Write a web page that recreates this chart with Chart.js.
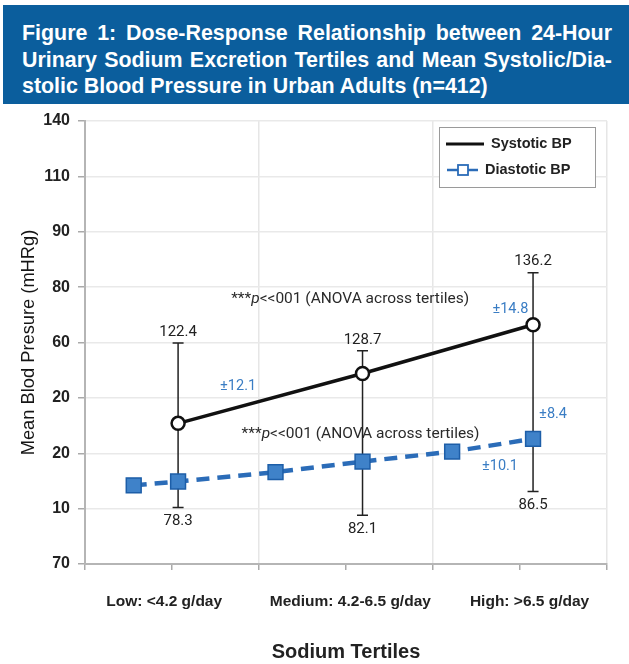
<!DOCTYPE html>
<html><head><meta charset="utf-8">
<script src="https://cdn.jsdelivr.net/npm/chart.js@4.4.0/dist/chart.umd.min.js"></script>
<style>
html,body{margin:0;padding:0;background:#fff;width:629px;height:664px;overflow:hidden;}
#wrap{position:relative;width:629px;height:664px;}
#hdr{position:absolute;left:3px;top:5px;width:626px;height:99px;background:#0b5e9d;box-sizing:border-box;padding:15px 17px 0 19px;color:#fff;font-family:"Liberation Sans",Arial,sans-serif;font-weight:bold;font-size:21.4px;line-height:26.5px;z-index:2;}
.j{text-align:justify;text-align-last:justify;white-space:nowrap;}
.l{white-space:nowrap;}
canvas{position:absolute;left:0;top:0;}
</style></head>
<body><div id="wrap">
<div id="hdr"><div class="j">Figure 1: Dose-Response Relationship between 24-Hour</div><div class="j">Urinary Sodium Excretion Tertiles and Mean Systolic/Dia-</div><div class="l">stolic Blood Pressure in Urban Adults (n=412)</div></div>
<canvas id="c" width="629" height="664"></canvas>
</div>
<script>
const yTickLabels = ['70','10','20','20','60','80','90','110','140'];
const categories = ['Low: <4.2 g/day','Medium: 4.2-6.5 g/day','High: >6.5 g/day'];
const categoryTickX = [0.91, 3.05, 5.11];
const systolicX = [1.07, 3.19, 5.15];
const systolicY = [2.54, 3.44, 4.32];
const errorTop = [3.99, 3.85, 5.26];
const errorBottom = [1.02, 0.88, 1.31];
const systolicMeans = ['122.4','128.7','136.2'];
const diastolicMeans = ['78.3','82.1','86.5'];
const diastolicX = [0.56, 1.07, 2.19, 3.19, 4.22, 5.15];
const diastolicY = [1.42, 1.49, 1.66, 1.85, 2.03, 2.26];
const sdLabels = ['±12.1','±14.8','±8.4','±10.1'];
const sdX = [1.76, 4.89, 5.38, 4.77];
const sdY = [3.21, 4.60, 2.71, 1.77];
const anovaX = [1.68, 1.80];
const anovaY = [4.79, 2.35];
const seriesNames = ['Systotic BP','Diastotic BP'];

const SYS_COLOR = '#111111';
const DIA_LINE = '#2b6cb8';
const DIA_FILL = '#3f82c9';
const DIA_BORDER = '#1d5ea8';
const SD_COLOR = '#3a7dc4';

const overlay = {
  id: 'overlay',
  beforeDatasetsDraw(chart) {
    const ctx = chart.ctx, xs = chart.scales.x, ys = chart.scales.y;
    ctx.save();
    ctx.strokeStyle = '#222';
    ctx.lineWidth = 1.5;
    for (let i = 0; i < systolicX.length; i++) {
      const x = xs.getPixelForValue(systolicX[i]);
      const yT = ys.getPixelForValue(errorTop[i]);
      const yB = ys.getPixelForValue(errorBottom[i]);
      ctx.beginPath();
      ctx.moveTo(x, yT); ctx.lineTo(x, yB);
      ctx.moveTo(x - 5.5, yT); ctx.lineTo(x + 5.5, yT);
      ctx.moveTo(x - 5.5, yB); ctx.lineTo(x + 5.5, yB);
      ctx.stroke();
    }
    ctx.restore();
  },
  afterDatasetsDraw(chart) {
    const ctx = chart.ctx, xs = chart.scales.x, ys = chart.scales.y, ca = chart.chartArea;
    ctx.save();
    ctx.font = '15px Roboto';
    ctx.fillStyle = '#222';
    ctx.textAlign = 'center';
    ctx.textBaseline = 'middle';
    for (let i = 0; i < systolicX.length; i++) {
      const x = xs.getPixelForValue(systolicX[i]);
      ctx.fillText(systolicMeans[i], x, ys.getPixelForValue(errorTop[i]) - 11);
      ctx.fillText(diastolicMeans[i], x, ys.getPixelForValue(errorBottom[i]) + 14);
    }
    ctx.font = '14.5px Roboto';
    ctx.fillStyle = SD_COLOR;
    for (let i = 0; i < sdLabels.length; i++) {
      ctx.fillText(sdLabels[i], xs.getPixelForValue(sdX[i]), ys.getPixelForValue(sdY[i]));
    }
    ctx.textAlign = 'left';
    ctx.fillStyle = '#2a2a2a';
    for (let i = 0; i < anovaX.length; i++) {
      let x = xs.getPixelForValue(anovaX[i]);
      const y = ys.getPixelForValue(anovaY[i]);
      const parts = [['***','15.5px Roboto'],['p','italic 15.5px Roboto'],['<<001 (ANOVA across tertiles)','15.5px Roboto']];
      for (const [t, f] of parts) {
        ctx.font = f;
        ctx.fillText(t, x, y);
        x += ctx.measureText(t).width;
      }
    }
    // legend
    const bx = ca.right - 168, by = ca.top + 6, bw = 156, bh = 60;
    ctx.fillStyle = '#fff';
    ctx.fillRect(bx, by, bw, bh);
    ctx.strokeStyle = '#9a9a9a';
    ctx.lineWidth = 1;
    ctx.strokeRect(bx + 0.5, by + 0.5, bw, bh);
    ctx.font = 'bold 14.5px "Liberation Sans", Arial, sans-serif';
    ctx.fillStyle = '#222';
    ctx.textBaseline = 'middle';
    ctx.strokeStyle = SYS_COLOR; ctx.lineWidth = 3;
    ctx.beginPath(); ctx.moveTo(bx + 7, by + 17); ctx.lineTo(bx + 45, by + 17); ctx.stroke();
    ctx.fillText(seriesNames[0], bx + 52, by + 17);
    ctx.strokeStyle = DIA_LINE; ctx.lineWidth = 2.5;
    ctx.beginPath(); ctx.moveTo(bx + 8, by + 43); ctx.lineTo(bx + 39, by + 43); ctx.stroke();
    ctx.fillStyle = '#fff'; ctx.lineWidth = 1.8;
    ctx.fillRect(bx + 19, by + 38, 10, 10);
    ctx.strokeRect(bx + 19, by + 38, 10, 10);
    ctx.fillStyle = '#222';
    ctx.fillText(seriesNames[1], bx + 46, by + 43);
    ctx.restore();
  }
};

new Chart(document.getElementById('c'), {
  type: 'line',
  data: {
    datasets: [
      {
        label: seriesNames[0],
        data: systolicX.map((x, i) => ({x, y: systolicY[i]})),
        borderColor: SYS_COLOR, borderWidth: 3.5,
        pointRadius: 6.5, pointBackgroundColor: '#fff', pointBorderColor: SYS_COLOR, pointBorderWidth: 2.5,
        tension: 0
      },
      {
        label: seriesNames[1],
        data: diastolicX.map((x, i) => ({x, y: diastolicY[i]})),
        borderColor: DIA_LINE, borderWidth: 4.5, borderDash: [13, 8],
        pointStyle: 'rect', pointRadius: 10.5, pointBackgroundColor: DIA_FILL, pointBorderColor: DIA_BORDER, pointBorderWidth: 1.5,
        tension: 0
      }
    ]
  },
  options: {
    responsive: false,
    animation: false,
    layout: { padding: { top: 121, right: 16, left: 0, bottom: 0 } },
    plugins: { legend: { display: false }, tooltip: { enabled: false } },
    scales: {
      x: {
        type: 'linear', min: 0, max: 6,
        afterBuildTicks(s) {
          const vals = [0,1,2,3,4,5,6].concat(categoryTickX).sort((a, b) => a - b);
          s.ticks = vals.map(v => ({value: v}));
        },
        afterFit(s) { s.height = 100; },
        ticks: {
          autoSkip: false, maxRotation: 0, padding: 22,
          font: { family: '"Liberation Sans", Arial, sans-serif', size: 15.5, weight: 'bold' },
          color: '#222',
          callback(v) { const i = categoryTickX.indexOf(v); return i >= 0 ? categories[i] : ''; }
        },
        grid: {
          color: c => ([2,4,6].includes(c.tick && c.tick.value) ? '#e6e6e6' : 'rgba(0,0,0,0)'),
          tickColor: c => (Number.isInteger(c.tick && c.tick.value) ? '#aaaaaa' : 'rgba(0,0,0,0)'),
          tickLength: 6, lineWidth: 1.5
        },
        border: { color: '#b5b5b5', width: 2 },
        title: {
          display: true, text: 'Sodium Tertiles', color: '#222',
          font: { family: '"Liberation Sans", Arial, sans-serif', size: 20, weight: 'bold' },
          padding: { top: 0, bottom: 0 }
        }
      },
      y: {
        min: 0, max: 8,
        afterFit(s) { s.width = 85; },
        ticks: {
          stepSize: 1, padding: 8, color: '#222',
          font: { family: '"Liberation Sans", Arial, sans-serif', size: 16, weight: 'bold' },
          callback(v) { return yTickLabels[v]; }
        },
        grid: { color: '#e9e9e9', tickColor: '#aaaaaa', tickLength: 7, lineWidth: 1.5 },
        border: { color: '#b5b5b5', width: 2 },
        title: {
          display: true, text: 'Mean Blod Presure (mHRg)', color: '#151515',
          font: { family: '"Liberation Sans", Arial, sans-serif', size: 18.3 },
          padding: { top: 18, bottom: 0 }
        }
      }
    }
  },
  plugins: [overlay]
});
</script>
</body></html>
